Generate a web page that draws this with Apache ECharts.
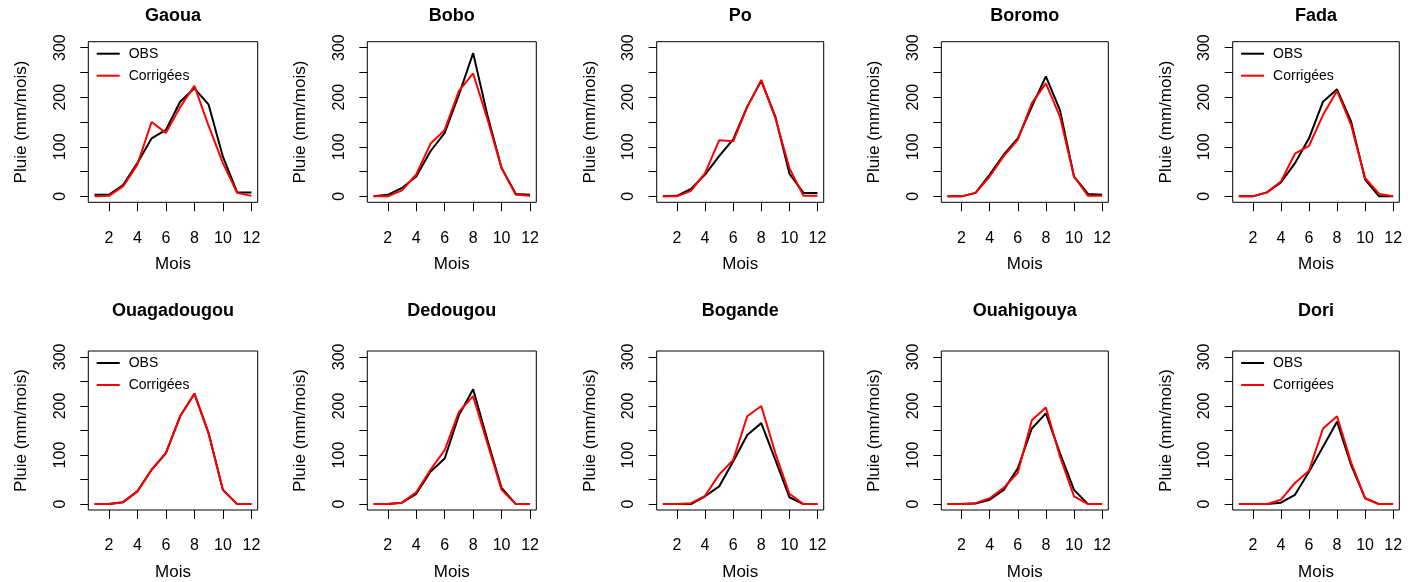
<!DOCTYPE html>
<html><head><meta charset="utf-8">
<script src="https://cdn.jsdelivr.net/npm/echarts@6/dist/echarts.min.js"></script>
<style>html,body{margin:0;padding:0;background:#fff}#c{width:1413px;height:582px}</style>
</head><body><div id="c"></div>
<script>
// ---- data ----
const months = [1,2,3,4,5,6,7,8,9,10,11,12];
const stations = ['Gaoua','Bobo','Po','Boromo','Fada','Ouagadougou','Dedougou','Bogande','Ouahigouya','Dori'];
const seriesNames = ['OBS','Corrigées'];
const xTickLabels = [2,4,6,8,10,12];
const yTickMarks = [0,50,100,150,200,250,300];
const yTickLabels = [0,100,200,300];
const legendStations = ['Gaoua','Fada','Ouagadougou','Dori'];

const obsGaoua = [3,3,23,67,117,134,191,218,185,80,8,8];
const corGaoua = [0,1,20,64,150,128,180,223,142,67,7,1];
const obsBobo = [0,3,17,40,91,128,205,289,164,57,5,3];
const corBobo = [0,0,12,44,106,134,213,248,156,57,3,1];
const obsPo = [0,1,15,44,81,115,181,233,161,46,7,7];
const corPo = [0,0,11,47,113,111,180,235,158,57,1,1];
const obsBoromo = [0,0,7,44,84,117,181,242,174,40,5,3];
const corBoromo = [0,0,7,40,81,114,188,228,161,40,1,1];
const obsFada = [0,0,8,28,67,117,191,216,151,34,0,0];
const corFada = [0,0,8,30,86,102,164,213,144,37,5,0];
const obsOuaga = [0,0,4,26,70,104,179,225,144,29,0,0];
const corOuaga = [0,0,4,26,70,104,179,225,144,29,0,0];
const obsDedougou = [0,0,3,21,66,93,181,234,131,33,0,0];
const corDedougou = [0,0,3,24,70,110,188,220,124,29,0,0];
const obsBogande = [0,0,0,16,36,87,141,165,90,14,0,0];
const corBogande = [0,0,2,17,60,90,179,200,104,21,0,0];
const obsOuahigouya = [0,0,1,9,29,73,154,185,104,29,0,0];
const corOuahigouya = [0,0,2,12,33,64,171,197,97,16,0,0];
const obsDori = [0,0,0,3,19,66,117,168,80,12,0,0];
const corDori = [0,0,0,9,43,68,154,179,85,12,0,0];

const obsData = [obsGaoua,obsBobo,obsPo,obsBoromo,obsFada,obsOuaga,obsDedougou,obsBogande,obsOuahigouya,obsDori];
const corData = [corGaoua,corBobo,corPo,corBoromo,corFada,corOuaga,corDedougou,corBogande,corOuahigouya,corDori];

// ---- layout ----
const FONT = 'Liberation Sans, Arial, sans-serif';
const lefts = [88.3, 367.3, 656.7, 941.3, 1232.7];
const widths = [169.4, 169, 167, 167, 166.6];
const tops = [41.7, 351];
const heights = [160.6, 159.7];

const grids = [], xAxes = [], yAxes = [], series = [], titles = [], legends = [];
stations.forEach((name, i) => {
  const col = i % 5, row = Math.floor(i / 5);
  const L = lefts[col], W = widths[col], T = tops[row], H = heights[row];
  grids.push({left: L, top: T, width: W, height: H, show: true, borderColor: '#000', borderWidth: 1, backgroundColor: 'transparent'});
  xAxes.push({
    gridIndex: i, type: 'value', min: 0.56, max: 12.44,
    name: 'Mois', nameLocation: 'middle', nameGap: 54,
    nameTextStyle: {fontFamily: FONT, fontSize: 17, color: '#000'},
    axisLine: {show: false, onZero: false},
    axisTick: {show: true, length: 9, customValues: xTickLabels, lineStyle: {color: '#000', width: 1}},
    axisLabel: {show: true, customValues: xTickLabels, margin: 28, fontFamily: FONT, fontSize: 16, color: '#000'},
    splitLine: {show: false}
  });
  yAxes.push({
    gridIndex: i, type: 'value', min: -12, max: 312,
    name: 'Pluie (mm/mois)', nameLocation: 'middle', nameGap: 58, nameRotate: 90,
    nameTextStyle: {fontFamily: FONT, fontSize: 17, color: '#000'},
    axisLine: {show: false, onZero: false},
    axisTick: {show: true, length: 8, customValues: yTickMarks, lineStyle: {color: '#000', width: 1}},
    axisLabel: {show: true, customValues: yTickLabels, rotate: 90, margin: 20, fontFamily: FONT, fontSize: 16, color: '#000'},
    splitLine: {show: false}
  });
  series.push({
    type: 'line', name: seriesNames[0], xAxisIndex: i, yAxisIndex: i,
    data: months.map((m, k) => [m, obsData[i][k]]),
    symbol: 'none', lineStyle: {color: '#000', width: 2}, itemStyle: {color: '#000'}, animation: false
  });
  series.push({
    type: 'line', name: seriesNames[1], xAxisIndex: i, yAxisIndex: i,
    data: months.map((m, k) => [m, corData[i][k]]),
    symbol: 'none', lineStyle: {color: '#ff0000', width: 2}, itemStyle: {color: '#ff0000'}, animation: false
  });
  titles.push({
    text: name, left: L + W / 2, top: row === 0 ? 7 : 302, textAlign: 'center', padding: 0,
    textStyle: {fontFamily: FONT, fontSize: 18, fontWeight: 'bold', color: '#000'}
  });
  if (legendStations.includes(name)) {
    legends.push({
      data: seriesNames.map(n => ({name: n, icon: 'rect'})),
      orient: 'vertical', left: L + 8.4, top: T + 5, padding: 0,
      itemWidth: 23, itemHeight: 2, itemGap: 8, selectedMode: false,
      textStyle: {fontFamily: FONT, fontSize: 14, lineHeight: 14, color: '#000', padding: [0, 0, 0, 4]}
    });
  }
});

const chart = echarts.init(document.getElementById('c'), null, {renderer: 'canvas'});
chart.setOption({
  animation: false, backgroundColor: '#fff',
  title: titles, legend: legends, grid: grids, xAxis: xAxes, yAxis: yAxes, series: series
});
</script></body></html>
